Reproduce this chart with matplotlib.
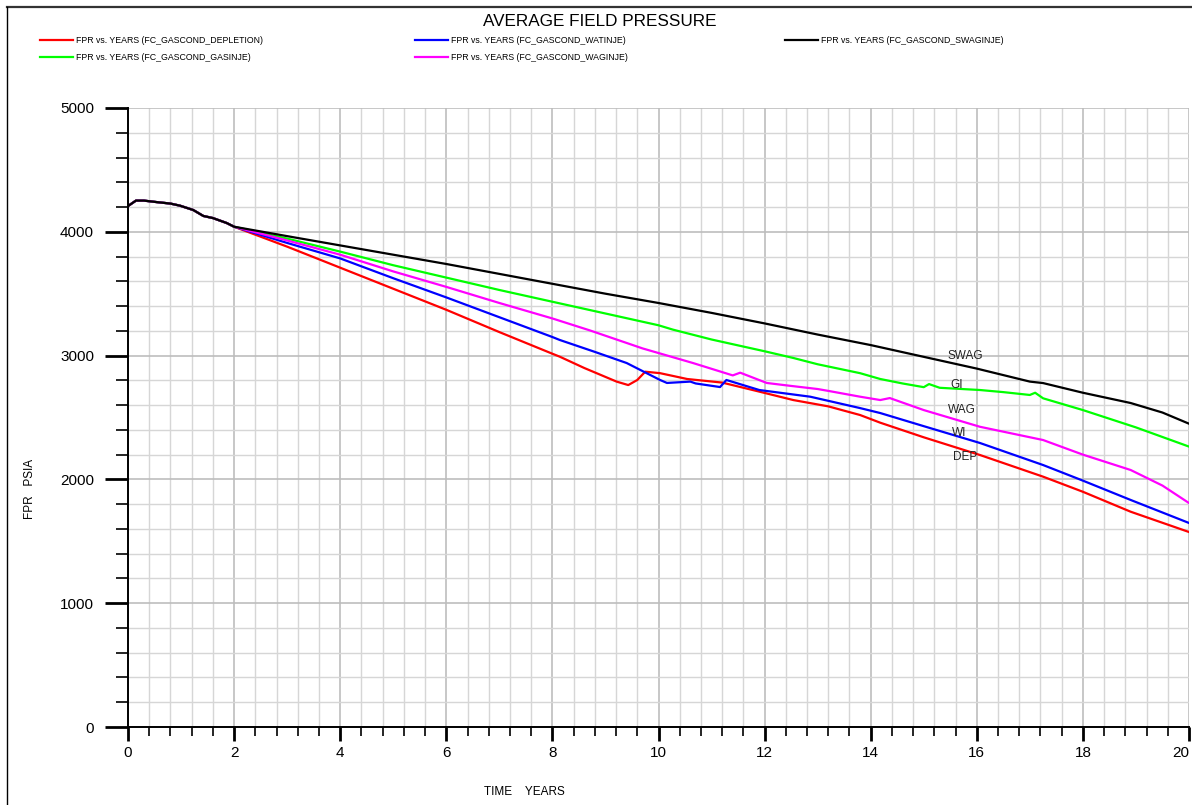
import matplotlib
matplotlib.use("Agg")
import matplotlib.pyplot as plt
from matplotlib.lines import Line2D
from matplotlib.ticker import MultipleLocator

plt.rcParams['font.family'] = ['Liberation Sans', 'DejaVu Sans']

# shared history before the cases split (years, psia)
t_hist = [0.0, 0.15, 0.3, 0.54, 0.8, 0.98, 1.23, 1.42, 1.6, 1.86]
p_hist = [4208, 4252, 4252, 4240, 4228, 4211, 4176, 4128, 4111, 4071]

# depletion
t_dep = [2.0, 3, 4, 5, 6, 7, 8, 8.14, 8.6, 9.21, 9.43, 9.6, 9.75, 10.03, 10.54,
         11.2, 11.9, 12.54, 13.2, 13.8, 14.18, 15, 16.06, 17.25, 18, 18.9, 20]
p_dep = [4041, 3880, 3710, 3540, 3370, 3190, 3015, 2991, 2900, 2790, 2762, 2803, 2870, 2858, 2811,
         2782, 2709, 2641, 2590, 2520, 2458, 2340, 2197, 2022, 1900, 1739, 1575]

# water injection
t_wi = [2.0, 3, 4, 5, 6, 7, 8, 8.14, 8.8, 9.4, 10.03, 10.16, 10.6, 10.7, 11.16, 11.28,
        11.9, 12.86, 13.8, 14.18, 15, 16.06, 17.25, 18, 18.9, 20]
p_wi = [4041, 3910, 3785, 3625, 3470, 3310, 3150, 3126, 3030, 2940, 2803, 2779, 2790, 2775, 2746, 2803,
        2722, 2668, 2576, 2536, 2430, 2294, 2116, 1990, 1834, 1648]

# gas injection
t_gi = [2.0, 3, 4, 5, 6, 7, 8, 9, 10, 10.27, 11, 12, 12.54, 13, 13.8, 14.18, 14.6, 15.0,
        15.1, 15.3, 16.06, 16.5, 17.0, 17.1, 17.25, 18, 19, 20]
p_gi = [4041, 3945, 3840, 3730, 3630, 3530, 3435, 3340, 3245, 3210, 3130, 3035, 2981, 2930, 2858, 2811, 2775, 2745,
        2770, 2740, 2722, 2705, 2682, 2700, 2655, 2560, 2420, 2265]

# WAG
t_wag = [2.0, 3, 4, 5, 6, 7, 8, 8.71, 9.7, 10.65, 11.4, 11.54, 12.04, 12.5, 13.0, 13.2,
         13.8, 14.18, 14.36, 15, 16.06, 17.25, 18, 18.9, 19.5, 20]
p_wag = [4041, 3930, 3815, 3680, 3555, 3425, 3300, 3203, 3058, 2940, 2840, 2862, 2779, 2755, 2730, 2715,
         2668, 2641, 2657, 2560, 2425, 2318, 2200, 2076, 1950, 1809]

# simultaneous WAG
t_swag = [2.0, 3, 4, 5, 6, 7, 8, 9, 10, 11, 12, 13, 14, 15, 16, 17, 17.25, 18, 18.9, 19.5, 20]
p_swag = [4041, 3965, 3890, 3815, 3740, 3660, 3580, 3500, 3425, 3345, 3260, 3170, 3085, 2990, 2895, 2790,
          2778, 2700, 2617, 2540, 2450]

labels = ["FPR vs. YEARS (FC_GASCOND_DEPLETION)", "FPR vs. YEARS (FC_GASCOND_WATINJE)",
          "FPR vs. YEARS (FC_GASCOND_SWAGINJE)", "FPR vs. YEARS (FC_GASCOND_GASINJE)",
          "FPR vs. YEARS (FC_GASCOND_WAGINJE)"]

# short names written next to the curves
tags = ["SWAG", "GI", "WAG", "WI", "DEP"]
tag_x = [15.45, 15.5, 15.45, 15.53, 15.55]
tag_y = [3000, 2765, 2560, 2375, 2180]

fig = plt.figure(figsize=(11.92, 8.05), dpi=100)
ax = fig.add_axes([128 / 1192, 1 - 727 / 805, (1189 - 128) / 1192, (727 - 108) / 805])

def full(t, p):
    return t_hist + t, p_hist + p

lw = 1.6
l_dep, = ax.plot(*full(t_dep, p_dep), color='#ff0000', lw=lw, label=labels[0])
l_wi, = ax.plot(*full(t_wi, p_wi), color='#0000ff', lw=lw, label=labels[1])
l_gi, = ax.plot(*full(t_gi, p_gi), color='#00ff00', lw=lw, label=labels[3])
l_wag, = ax.plot(*full(t_wag, p_wag), color='#ff00ff', lw=lw, label=labels[4])
l_swag, = ax.plot(*full(t_swag, p_swag), color='black', lw=lw, label=labels[2])

for name, x, y in zip(tags, tag_x, tag_y):
    ax.text(x, y, name, fontsize=8.5, color='#222222', va='center', ha='left')

ax.set_xlim(0, 20)
ax.set_ylim(0, 5000)
ax.set_xticks(range(0, 21, 2))
ax.xaxis.set_minor_locator(MultipleLocator(0.4))
ax.yaxis.set_major_locator(MultipleLocator(1000))
ax.yaxis.set_minor_locator(MultipleLocator(200))
ax.grid(which='major', color='#bdbdbd', lw=1.2)
ax.grid(which='minor', color='#d6d6d6', lw=1.0)
ax.set_axisbelow(True)
for s in ['top', 'right']:
    ax.spines[s].set_visible(False)
for s in ['left', 'bottom']:
    ax.spines[s].set_linewidth(1.4)
ax.tick_params(axis='y', which='major', length=16.5, width=2, pad=8, labelsize=11)
ax.tick_params(axis='y', which='minor', length=8.6, width=1.2)
ax.tick_params(axis='x', which='major', length=10, width=2, pad=4, labelsize=11)
ax.tick_params(axis='x', which='minor', length=6.5, width=1.2)
# last x label sits flush with the right edge
ax.get_xticklabels()[-1].set_horizontalalignment('right')

fig.text(30 / 1192, 1 - 489 / 805, "FPR   PSIA", rotation=90, fontsize=8.5, ha='center', va='center')
fig.text(524 / 1192, 1 - 792 / 805, "TIME    YEARS", fontsize=8.5, ha='center', va='center')
fig.text(600 / 1192, 1 - 21 / 805, "AVERAGE FIELD PRESSURE", fontsize=12.3, ha='center', va='center')

leg_kw = dict(frameon=False, fontsize=6.3, handlelength=3.8, handletextpad=0.35,
              labelspacing=0.95, borderpad=0, borderaxespad=0, loc='upper left')
fig.legend(handles=[l_dep, l_gi], bbox_to_anchor=(40 / 1192, 1 - 36 / 805), **leg_kw)
fig.legend(handles=[l_wi, l_wag], bbox_to_anchor=(415 / 1192, 1 - 36 / 805), **leg_kw)
fig.legend(handles=[l_swag], bbox_to_anchor=(785 / 1192, 1 - 36 / 805), **leg_kw)

# outer frame of the plot window
fig.add_artist(Line2D([7 / 1192, 1], [1 - 7 / 805, 1 - 7 / 805], color='#333333', lw=1.6,
                      transform=fig.transFigure))
fig.add_artist(Line2D([7 / 1192, 7 / 1192], [0, 1 - 7 / 805], color='black', lw=1.0,
                      transform=fig.transFigure))

fig.savefig("out.png", dpi=100)
